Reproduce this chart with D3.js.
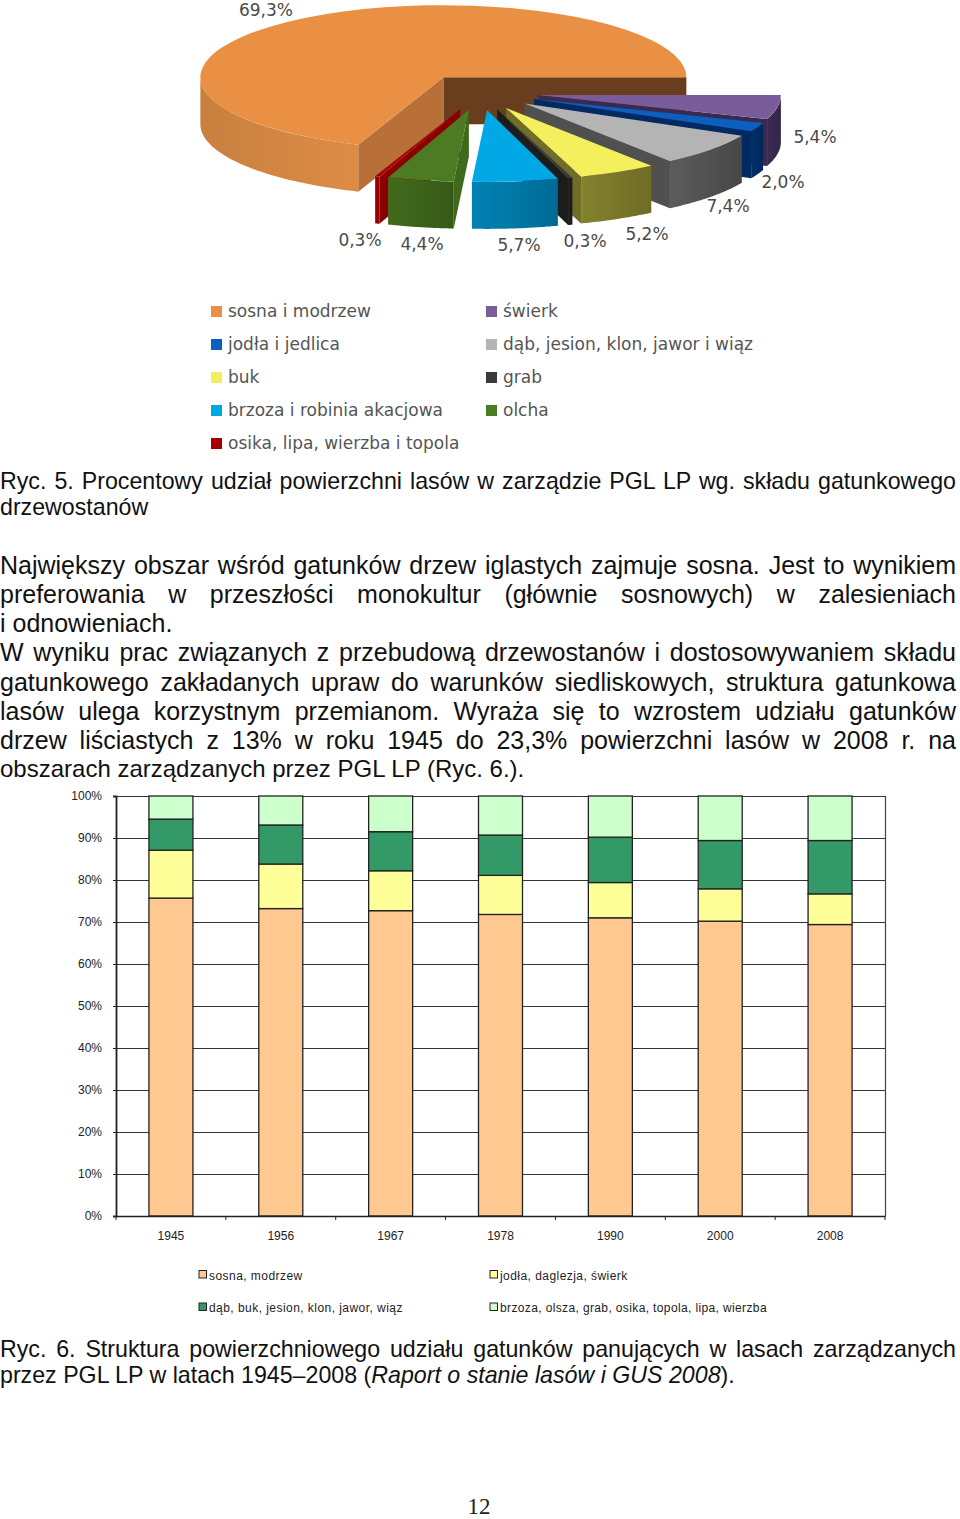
<!DOCTYPE html>
<html><head><meta charset="utf-8">
<script src="https://cdnjs.cloudflare.com/ajax/libs/d3/7.8.5/d3.min.js"></script>
<style>
html,body{margin:0;padding:0;background:#fff;}
#page{position:relative;width:960px;height:1519px;overflow:hidden;}
svg{position:absolute;left:0;top:0;}
.ln{position:absolute;left:0;font-family:"Liberation Sans",Arial,sans-serif;color:#111;white-space:nowrap;}
.j{white-space:normal;text-align:justify;text-align-last:justify;}
</style></head><body><div id="page"></div>
<script>
// ---------- pie data ----------
const pieNames  = ["sosna i modrzew","świerk","jodła i jedlica","dąb, jesion, klon, jawor i wiąz","buk","grab","brzoza i robinia akacjowa","olcha","osika, lipa, wierzba i topola"];
const pieValues = [69.3,5.4,2.0,7.4,5.2,0.3,5.7,4.4,0.3];
const pieLabels = ["69,3%","5,4%","2,0%","7,4%","5,2%","0,3%","5,7%","4,4%","0,3%"];
const pieTop    = ["#ea9045","#7b5c9b","#0b5fbe","#b4b4b4","#f4ef5c","#3a3a3a","#00a9e6","#4c7b24","#a80000"];
const pieWallA  = ["#c8803f","#3c2c55","#012f6a","#5c5c5c","#85822e","#202020","#0083b4","#426a1c","#9a0000"];
const pieWallB  = ["#dd8c46","#33244a","#02275a","#474747","#6e6c26","#1a1a1a","#006a96","#375a18","#9a0000"];
const pieFace   = ["#b87038","#3a2a52","#012a62","#505050","#6f6d28","#1c1c1c","#006a96","#3f6a1c","#8a0000"];
const pieBack   = "#683e1e";
const pieLegendLeft  = [0,2,4,6,8];
const pieLegendRight = [1,3,5,7];
// ---------- stacked bar data ----------
const years = ["1945","1956","1967","1978","1990","2000","2008"];
const sosna = [75.7,73.2,72.7,71.8,71.0,70.2,69.4];
const jodla = [11.4,10.6,9.5,9.3,8.4,7.7,7.3];
const dab   = [7.4,9.3,9.3,9.6,10.8,11.5,12.7];
const brzoza= [5.5,6.9,8.5,9.3,9.8,10.6,10.6];
const barSeriesNames = ["sosna, modrzew","jodła, daglezja, świerk","dąb, buk, jesion, klon, jawor, wiąz","brzoza, olsza, grab, osika, topola, lipa, wierzba"];
const barColors = ["#ffc891","#ffff99","#339966","#ccffcc"];
const pctTicks = [0,10,20,30,40,50,60,70,80,90,100];
// ---------- text ----------
const textLines = [
 "Ryc. 5. Procentowy udział powierzchni lasów w zarządzie PGL LP wg. składu gatunkowego",
 "drzewostanów",
 "Największy obszar wśród gatunków drzew iglastych zajmuje sosna. Jest to wynikiem",
 "preferowania w przeszłości monokultur (głównie sosnowych) w zalesieniach",
 "i odnowieniach.",
 "W wyniku prac związanych z przebudową drzewostanów i dostosowywaniem składu",
 "gatunkowego zakładanych upraw do warunków siedliskowych, struktura gatunkowa",
 "lasów ulega korzystnym przemianom. Wyraża się to wzrostem udziału gatunków",
 "drzew liściastych z\u00a013% w roku 1945 do 23,3% powierzchni lasów w 2008 r. na",
 "obszarach zarządzanych przez PGL LP (Ryc. 6.).",
 "Ryc. 6. Struktura powierzchniowego udziału gatunków panujących w lasach zarządzanych",
 "przez PGL LP w latach 1945–2008 (<i>Raport o stanie lasów i GUS 2008</i>)."
];
const pageNumber = "12";

// ---------- layout ----------
const textY = [481,507,565,594,623,652,682,711,740,769,1349,1375];
const textSize = [23.2,23.2,25,25,25,25,25,25,25,24,23.2,23.2];
const textJust = [1,0,1,1,0,1,1,1,1,0,1,0];
const W=960,H=1519;
const page=d3.select("#page");
const svg=page.append("svg").attr("width",W).attr("height",H);
const defs=svg.append("defs");

// ---------- pie ----------
const cx=478,cy=92,rx=243,ry=72,depth=47,explode=0.25;
const pieNudgeX=[0,0,0,0,0,1,2,3,3];
const deg=Math.PI/180, TAU=2*Math.PI;
const pie=d3.pie().sort(null).value(d=>d).startAngle(200.5*deg).endAngle(200.5*deg+TAU);
const arcs=pie(pieValues).map((a,i)=>{
  const wrap=i===0?0:TAU;            // slices after the first run from 3 o'clock round to 200.5 deg
  const s=a.startAngle-wrap,e=a.endAngle-wrap,mid=(s+e)/2;
  return {i,s,e,ox:cx+explode*rx*Math.sin(mid)+pieNudgeX[i],oy:cy-explode*ry*Math.cos(mid)};
});
const arcGen=d3.arc().innerRadius(0).outerRadius(rx);
const pt=(a,o)=>[o.ox+rx*Math.sin(a),o.oy-ry*Math.cos(a)];
const drawOrder=[0,1,2,3,4,5,8,7,6];
const pieG=svg.append("g");
const lineGen=d3.line();
drawOrder.forEach(k=>{
  const o=arcs[k],g=pieG.append("g");
  const apex=[o.ox,o.oy];
  const face=(a,col)=>{
    const p=pt(a,o);
    g.append("path").attr("fill",col).attr("d",lineGen([apex,p,[p[0],p[1]+depth],[apex[0],apex[1]+depth]])+"Z");
  };
  if(Math.sin(o.e)>0) face(o.e, k===0?pieBack:pieFace[k]);
  if(Math.sin(o.s)<0) face(o.s, pieFace[k]);
  const s=Math.max(o.s,90*deg), e=Math.min(o.e,270*deg);
  if(e>s){
    const top=d3.range(0,41).map(t=>pt(s+(e-s)*t/40,o));
    const bot=top.slice().reverse().map(p=>[p[0],p[1]+depth]);
    const id="w"+k, xs=top.map(p=>p[0]);
    const gr=defs.append("linearGradient").attr("id",id).attr("gradientUnits","userSpaceOnUse")
      .attr("x1",d3.min(xs)).attr("x2",d3.max(xs)).attr("y1",0).attr("y2",0);
    gr.append("stop").attr("offset",0).attr("stop-color",pieWallA[k]);
    gr.append("stop").attr("offset",1).attr("stop-color",pieWallB[k]);
    g.append("path").attr("fill",`url(#${id})`).attr("d",lineGen(top.concat(bot))+"Z");
  }
  g.append("path").attr("fill",pieTop[k])
   .attr("transform",`translate(${o.ox},${o.oy}) scale(1,${ry/rx})`)
   .attr("d",arcGen({startAngle:o.s,endAngle:o.e}));
});
// pie labels
const pieLabelPos=[[266,10.5],[815,137.5],[783,182.5],[728,206.5],[647,234.5],[585,241.5],[519,245.5],[422,244.5],[360,240.5]];
svg.append("g").selectAll("text").data(pieLabels).join("text")
  .attr("x",(d,i)=>pieLabelPos[i][0]).attr("y",(d,i)=>pieLabelPos[i][1])
  .attr("dy","0.35em").attr("text-anchor","middle")
  .attr("font-family","DejaVu Sans").attr("font-size",17).attr("fill","#4a4a4a").text(d=>d);
// pie legend
const pieLegRow=d3.scalePoint().domain([0,1,2,3,4]).range([311,443]);
const pieLegendColor=d=>d===5?"#3a3a3a":pieTop[d];
function pieLegend(list,x){
  const g=svg.append("g").selectAll("g").data(list).join("g")
    .attr("transform",(d,i)=>`translate(${x},${pieLegRow(i)})`);
  g.append("rect").attr("x",0).attr("y",-5).attr("width",11).attr("height",11).attr("fill",pieLegendColor);
  g.append("text").attr("x",17).attr("y",0).attr("dy","0.35em").attr("font-family","DejaVu Sans").attr("font-size",17)
    .attr("fill","#555").text(d=>pieNames[d]);
}
pieLegend(pieLegendLeft,211);
pieLegend(pieLegendRight,486);

// ---------- stacked bars ----------
const x=d3.scaleBand().domain(years).range([116,885]);
const y=d3.scaleLinear().domain([0,100]).range([1216,796]);
const barW=44;
const rows=years.map((yr,i)=>({yr,s0:sosna[i],s1:jodla[i],s2:dab[i],s3:brzoza[i]}));
const stack=d3.stack().keys(["s0","s1","s2","s3"])(rows);
const chart=svg.append("g");
chart.append("g").selectAll("line").data(pctTicks.slice(1)).join("line")
  .attr("x1",116).attr("x2",885).attr("y1",d=>y(d)+.5).attr("y2",d=>y(d)+.5)
  .attr("stroke","#333").attr("stroke-width",1.2);
chart.append("line").attr("x1",885.5).attr("x2",885.5).attr("y1",796).attr("y2",1216).attr("stroke","#444").attr("stroke-width",1.2);
stack.forEach((s,si)=>{
  chart.append("g").selectAll("rect").data(s).join("rect")
    .attr("x",d=>x(d.data.yr)+x.bandwidth()/2-barW/2).attr("width",barW)
    .attr("y",d=>y(d[1])).attr("height",d=>y(d[0])-y(d[1]))
    .attr("fill",barColors[si]).attr("stroke","#222").attr("stroke-width",1.3);
});
const axL=chart.append("g").attr("transform","translate(116,0)")
  .call(d3.axisLeft(y).tickValues(pctTicks).tickSize(3).tickPadding(10).tickFormat(d=>d+"%"));
axL.select(".domain").attr("stroke","#222").attr("stroke-width",1.8);
axL.selectAll("line").attr("stroke","#222");
axL.selectAll("text").attr("font-family","Liberation Sans").attr("font-size",12).attr("fill","#222").attr("dx",-1);
const axB=chart.append("g").attr("transform","translate(0,1216)")
  .call(d3.axisBottom(x).tickSize(0).tickPadding(15));
axB.select(".domain").attr("stroke","#222").attr("stroke-width",1.5);
axB.selectAll("text").attr("font-family","Liberation Sans").attr("font-size",12).attr("fill","#222");
chart.append("g").selectAll("line").data(years.concat(["end"])).join("line")
  .attr("x1",(d,i)=>116+i*x.step()).attr("x2",(d,i)=>116+i*x.step())
  .attr("y1",1216).attr("y2",1220).attr("stroke","#222");
// bar legend
const legX=[199,490],legY=[1275.5,1308],legSp=[0.45,0.45,0.45,0.37];
const legG=svg.append("g").selectAll("g").data(barSeriesNames).join("g")
  .attr("transform",(d,i)=>`translate(${legX[i%2]},${legY[i>>1]})`);
legG.append("rect").attr("x",0).attr("y",-5).attr("width",7.5).attr("height",7.5)
  .attr("fill",(d,i)=>barColors[i]).attr("stroke","#222").attr("stroke-width",1);
legG.append("text").attr("x",10).attr("dy","0.35em").attr("font-family","Liberation Sans")
  .attr("font-size",12).attr("letter-spacing",(d,i)=>legSp[i]).attr("fill","#222").text(d=>d);

// ---------- body text ----------
page.selectAll("div.ln").data(textLines).join("div")
  .attr("class",(d,i)=>"ln"+(textJust[i]?" j":""))
  .style("width",(d,i)=>textJust[i]?"956px":null)
  .style("top",(d,i)=>(textY[i]-15)+"px")
  .style("height","30px").style("line-height","30px")
  .style("font-size",(d,i)=>textSize[i]+"px")
  .html(d=>d);
svg.append("text").attr("x",479).attr("y",1514).attr("text-anchor","middle")
  .attr("font-family","Liberation Serif").attr("font-size",23).attr("fill","#222").text(pageNumber);
</script></body></html>
